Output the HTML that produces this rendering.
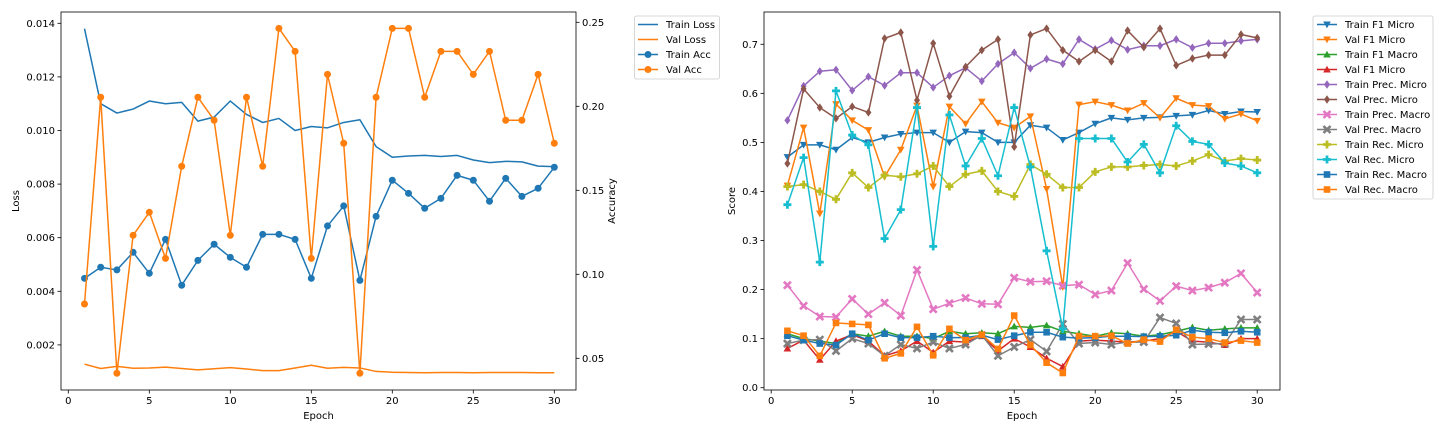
<!DOCTYPE html>
<html><head><meta charset="utf-8">
<style>
html,body{margin:0;padding:0;background:#fff;}
svg{display:block;font-family:"DejaVu Sans","Liberation Sans",sans-serif;}
text{font-size:10px;fill:#000;}
</style></head>
<body>
<svg id="chart" width="1440" height="432" viewBox="0 0 1440 432" xmlns="http://www.w3.org/2000/svg"></svg>
<script>
const epochs = Array.from({length:30},(_,i)=>i+1);
const trainLoss = [0.0138,0.0110,0.01065,0.0108,0.0111,0.0110,0.01105,0.01035,0.0105,0.0111,0.0106,0.0103,0.01045,0.0100,0.01015,0.0101,0.0103,0.0104,0.0094,0.0090,0.00905,0.00907,0.00903,0.00907,0.0089,0.0088,0.00885,0.00883,0.00867,0.00865];
const valLoss = [0.00128,0.00112,0.0012,0.00113,0.00114,0.00117,0.00112,0.00107,0.00111,0.00115,0.0011,0.00104,0.00104,0.00114,0.00124,0.00113,0.00116,0.00114,0.00101,0.00098,0.00097,0.00096,0.00097,0.00097,0.00096,0.00097,0.00097,0.00097,0.00096,0.00096];
const trainAcc = [0.0976,0.1042,0.1026,0.1131,0.1006,0.1208,0.0935,0.1083,0.1179,0.1101,0.1042,0.1238,0.1238,0.1208,0.0976,0.1288,0.1407,0.0964,0.1345,0.1560,0.1482,0.1393,0.1452,0.1589,0.1560,0.1435,0.1571,0.1464,0.1512,0.1637];
const valAcc = [0.0823,0.2054,0.0411,0.1232,0.1369,0.1095,0.1643,0.2054,0.1917,0.1232,0.2054,0.1643,0.2464,0.2327,0.1095,0.2190,0.1780,0.0411,0.2054,0.2464,0.2464,0.2054,0.2327,0.2327,0.2190,0.2327,0.1917,0.1917,0.2190,0.1780];
const lossTicks = [0.002,0.004,0.006,0.008,0.010,0.012,0.014];
const accTicks = [0.05,0.10,0.15,0.20,0.25];
const epochTicks = [0,5,10,15,20,25,30];
const scoreTicks = [0.0,0.1,0.2,0.3,0.4,0.5,0.6,0.7];

const trainF1Micro = [0.47,0.495,0.495,0.485,0.51,0.50,0.51,0.517,0.52,0.52,0.50,0.522,0.52,0.50,0.50,0.535,0.53,0.505,0.52,0.538,0.55,0.546,0.55,0.551,0.554,0.556,0.565,0.558,0.563,0.562];
const valF1Micro = [0.412,0.53,0.355,0.578,0.545,0.525,0.43,0.485,0.575,0.41,0.573,0.538,0.583,0.54,0.53,0.553,0.405,0.205,0.577,0.583,0.576,0.565,0.58,0.55,0.59,0.576,0.574,0.548,0.558,0.544];
const trainF1Macro = [0.11,0.10,0.095,0.09,0.11,0.105,0.115,0.105,0.105,0.10,0.115,0.11,0.112,0.11,0.125,0.123,0.127,0.115,0.11,0.105,0.112,0.11,0.105,0.108,0.115,0.123,0.117,0.12,0.122,0.122];
const valF1MicroB = [0.08,0.097,0.057,0.095,0.108,0.095,0.065,0.075,0.095,0.072,0.095,0.093,0.105,0.075,0.10,0.083,0.06,0.043,0.095,0.097,0.095,0.093,0.095,0.10,0.115,0.095,0.093,0.087,0.10,0.10];
const trainPrecMicro = [0.545,0.615,0.645,0.648,0.606,0.634,0.616,0.642,0.642,0.612,0.636,0.652,0.625,0.66,0.683,0.651,0.67,0.66,0.71,0.69,0.708,0.689,0.697,0.697,0.71,0.693,0.702,0.702,0.707,0.71];
const valPrecMicro = [0.457,0.609,0.571,0.549,0.573,0.561,0.712,0.724,0.586,0.702,0.594,0.654,0.688,0.71,0.491,0.719,0.732,0.688,0.665,0.688,0.665,0.728,0.694,0.732,0.657,0.671,0.678,0.678,0.72,0.713];
const trainPrecMacro = [0.209,0.167,0.145,0.144,0.181,0.15,0.173,0.147,0.24,0.16,0.172,0.183,0.171,0.17,0.224,0.216,0.217,0.208,0.21,0.19,0.198,0.254,0.201,0.177,0.207,0.198,0.204,0.214,0.233,0.194];
const valPrecMacro = [0.09,0.097,0.098,0.075,0.10,0.09,0.065,0.088,0.08,0.093,0.08,0.088,0.107,0.065,0.083,0.098,0.074,0.13,0.09,0.092,0.088,0.093,0.093,0.143,0.131,0.088,0.089,0.09,0.139,0.139];
const trainRecMicro = [0.41,0.414,0.40,0.384,0.438,0.408,0.433,0.43,0.436,0.452,0.41,0.435,0.442,0.40,0.39,0.455,0.435,0.408,0.408,0.44,0.45,0.45,0.453,0.455,0.452,0.462,0.475,0.462,0.467,0.464];
const valRecMicro = [0.373,0.469,0.256,0.605,0.515,0.495,0.304,0.363,0.571,0.288,0.556,0.452,0.508,0.432,0.571,0.45,0.279,0.12,0.508,0.508,0.508,0.46,0.496,0.438,0.534,0.502,0.496,0.458,0.452,0.438];
const trainRecMacro = [0.106,0.097,0.09,0.087,0.11,0.097,0.11,0.102,0.102,0.105,0.102,0.102,0.107,0.098,0.106,0.113,0.113,0.103,0.101,0.102,0.105,0.105,0.104,0.105,0.107,0.117,0.113,0.112,0.115,0.113];
const valRecMacro = [0.116,0.106,0.065,0.132,0.13,0.128,0.06,0.07,0.124,0.066,0.12,0.097,0.108,0.079,0.147,0.087,0.051,0.03,0.105,0.105,0.106,0.09,0.098,0.094,0.118,0.103,0.1,0.092,0.096,0.092];
const scoreLabels = ["Train F1 Micro","Val F1 Micro","Train F1 Macro","Val F1 Micro","Train Prec. Micro","Val Prec. Micro","Train Prec. Macro","Val Prec. Macro","Train Rec. Micro","Val Rec. Micro","Train Rec. Macro","Val Rec. Macro"];

const svg = document.getElementById('chart');
const NS = 'http://www.w3.org/2000/svg';
function mk(tag, attrs, parent){const e=document.createElementNS(NS,tag);for(const k in attrs)e.setAttribute(k,attrs[k]);(parent||svg).appendChild(e);return e;}
function txt(s, attrs, parent){const e=mk('text',attrs,parent);e.textContent=s;return e;}

// scales
const xL = e => 68.3 + 16.2*e;
const yLoss = v => 23.3 + (0.014 - v)*26800;
const yAcc = v => 22.3 + (0.25 - v)*1680;
const xR = e => 771.2 + 16.2*e;
const yS = v => 387.7 - v*490.6;

function marker(g, type, x, y, color){
  let e;
  if(type==='o'){e=mk('circle',{cx:x,cy:y,r:3.5,fill:color},g);}
  else if(type==='v'){e=mk('path',{d:`M${x-3.8},${y-3} L${x+3.8},${y-3} L${x},${y+3.8}Z`,fill:color},g);}
  else if(type==='^'){e=mk('path',{d:`M${x-3.8},${y+3} L${x+3.8},${y+3} L${x},${y-3.8}Z`,fill:color},g);}
  else if(type==='d'){e=mk('path',{d:`M${x},${y-4.2} L${x+3},${y} L${x},${y+4.2} L${x-3},${y}Z`,fill:color},g);}
  else if(type==='X'){e=mk('path',{d:`M${x-3.5},${y-3.5}L${x+3.5},${y+3.5}M${x+3.5},${y-3.5}L${x-3.5},${y+3.5}`,stroke:color,'stroke-width':2.6,fill:'none'},g);}
  else if(type==='P'){e=mk('path',{d:`M${x-4},${y}L${x+4},${y}M${x},${y-4}L${x},${y+4}`,stroke:color,'stroke-width':2.8,fill:'none'},g);}
  else if(type==='s'){e=mk('rect',{x:x-3.3,y:y-3.3,width:6.6,height:6.6,fill:color},g);}
  
  
  return e;
}
function series(name, xs, vals, xf, yf, color, mtype){
  const g=mk('g',{});
  
  
  const pts=vals.map((v,i)=>xf(xs[i]).toFixed(2)+','+yf(v).toFixed(2)).join(' ');
  mk('polyline',{points:pts,fill:'none',stroke:color,'stroke-width':1.5,'stroke-linejoin':'round'},g);
  if(mtype) vals.forEach((v,i)=>marker(g,mtype,xf(xs[i]),yf(v),color));
}

// ===== Left axes =====
const L={x0:61,x1:576,y0:12,y1:390};
const lf=mk('rect',{x:L.x0,y:L.y0,width:L.x1-L.x0,height:L.y1-L.y0,fill:'#fff',stroke:'none'});


epochTicks.forEach(t=>{const x=xL(t);mk('line',{x1:x,x2:x,y1:L.y1,y2:L.y1+3.5,stroke:'#000','stroke-width':0.8});const tl=txt(t,{x:x,y:L.y1+14,'text-anchor':'middle'});});
lossTicks.forEach(t=>{const y=yLoss(t);mk('line',{x1:L.x0-3.5,x2:L.x0,y1:y,y2:y,stroke:'#000','stroke-width':0.8});const tl=txt(t.toFixed(3),{x:L.x0-6,y:y+3.5,'text-anchor':'end'});});
accTicks.forEach(t=>{const y=yAcc(t);mk('line',{x1:L.x1,x2:L.x1+3.5,y1:y,y2:y,stroke:'#000','stroke-width':0.8});const tl=txt(t.toFixed(2),{x:L.x1+6,y:y+3.5,'text-anchor':'start'});});
series('train-loss-line',epochs,trainLoss,xL,yLoss,'#1f77b4',null);
series('val-loss-line',epochs,valLoss,xL,yLoss,'#ff7f0e',null);
series('train-acc-line',epochs,trainAcc,xL,yAcc,'#1f77b4','o');
series('val-acc-line',epochs,valAcc,xL,yAcc,'#ff7f0e','o');
const lb=mk('rect',{x:L.x0,y:L.y0,width:L.x1-L.x0,height:L.y1-L.y0,fill:'none',stroke:'#000','stroke-width':0.8});

let t1=txt('Epoch',{x:(L.x0+L.x1)/2,y:419,'text-anchor':'middle'});
let t2=txt('Loss',{x:19,y:201,'text-anchor':'middle',transform:'rotate(-90 19 201)'});
let t3=txt('Accuracy',{x:615,y:201,'text-anchor':'middle',transform:'rotate(-90 615 201)'});

// left legend
const lg=mk('g',{});
mk('rect',{x:634.5,y:16,width:85,height:63,rx:2,fill:'#fff',stroke:'#ccc','stroke-width':0.8},lg);
[['Train Loss','#1f77b4',null],['Val Loss','#ff7f0e',null],['Train Acc','#1f77b4','o'],['Val Acc','#ff7f0e','o']].forEach((it,i)=>{
  const y=24.5+i*15;
  const eg=mk('g',{},lg);
  mk('line',{x1:638,x2:658,y1:y,y2:y,stroke:it[1],'stroke-width':1.5},eg);
  if(it[2])marker(eg,it[2],648,y,it[1]);
  txt(it[0],{x:666,y:y+3.5},eg);
});

// ===== Right axes =====
const R={x0:764,x1:1280,y0:12,y1:390};
scoreTicks.forEach(t=>{const y=yS(t);mk('line',{x1:R.x0-3.5,x2:R.x0,y1:y,y2:y,stroke:'#000','stroke-width':0.8});const tl=txt(t.toFixed(1),{x:R.x0-6,y:y+3.5,'text-anchor':'end'});});
epochTicks.forEach(t=>{const x=xR(t);mk('line',{x1:x,x2:x,y1:R.y1,y2:R.y1+3.5,stroke:'#000','stroke-width':0.8});const tl=txt(t,{x:x,y:R.y1+14,'text-anchor':'middle'});});
const colors=['#1f77b4','#ff7f0e','#2ca02c','#d62728','#9467bd','#8c564b','#e377c2','#7f7f7f','#bcbd22','#17becf','#1f77b4','#ff7f0e'];
const marks=['v','v','^','^','d','d','X','X','P','P','s','s'];
const allSeries=[trainF1Micro,valF1Micro,trainF1Macro,valF1MicroB,trainPrecMicro,valPrecMicro,trainPrecMacro,valPrecMacro,trainRecMicro,valRecMicro,trainRecMacro,valRecMacro];
const names=['train-f1-micro-line','val-f1-micro-line','train-f1-macro-line','val-f1-micro-red-line','train-prec-micro-line','val-prec-micro-line','train-prec-macro-line','val-prec-macro-line','train-rec-micro-line','val-rec-micro-line','train-rec-macro-line','val-rec-macro-line'];
allSeries.forEach((s,i)=>series(names[i],epochs,s,xR,yS,colors[i],marks[i]));
const rb=mk('rect',{x:R.x0,y:R.y0,width:R.x1-R.x0,height:R.y1-R.y0,fill:'none',stroke:'#000','stroke-width':0.8});

let t4=txt('Epoch',{x:(R.x0+R.x1)/2,y:419,'text-anchor':'middle'});
let t5=txt('Score',{x:735,y:201,'text-anchor':'middle',transform:'rotate(-90 735 201)'});

const rg=mk('g',{});
mk('rect',{x:1313,y:16,width:120,height:183,rx:2,fill:'#fff',stroke:'#ccc','stroke-width':0.8},rg);
scoreLabels.forEach((lab,i)=>{
  const y=24.5+i*15;
  const eg=mk('g',{},rg);
  mk('line',{x1:1317,x2:1337,y1:y,y2:y,stroke:colors[i],'stroke-width':1.5},eg);
  marker(eg,marks[i],1327,y,colors[i]);
  txt(lab,{x:1345,y:y+3.5},eg);
});
</script>
</body></html>
